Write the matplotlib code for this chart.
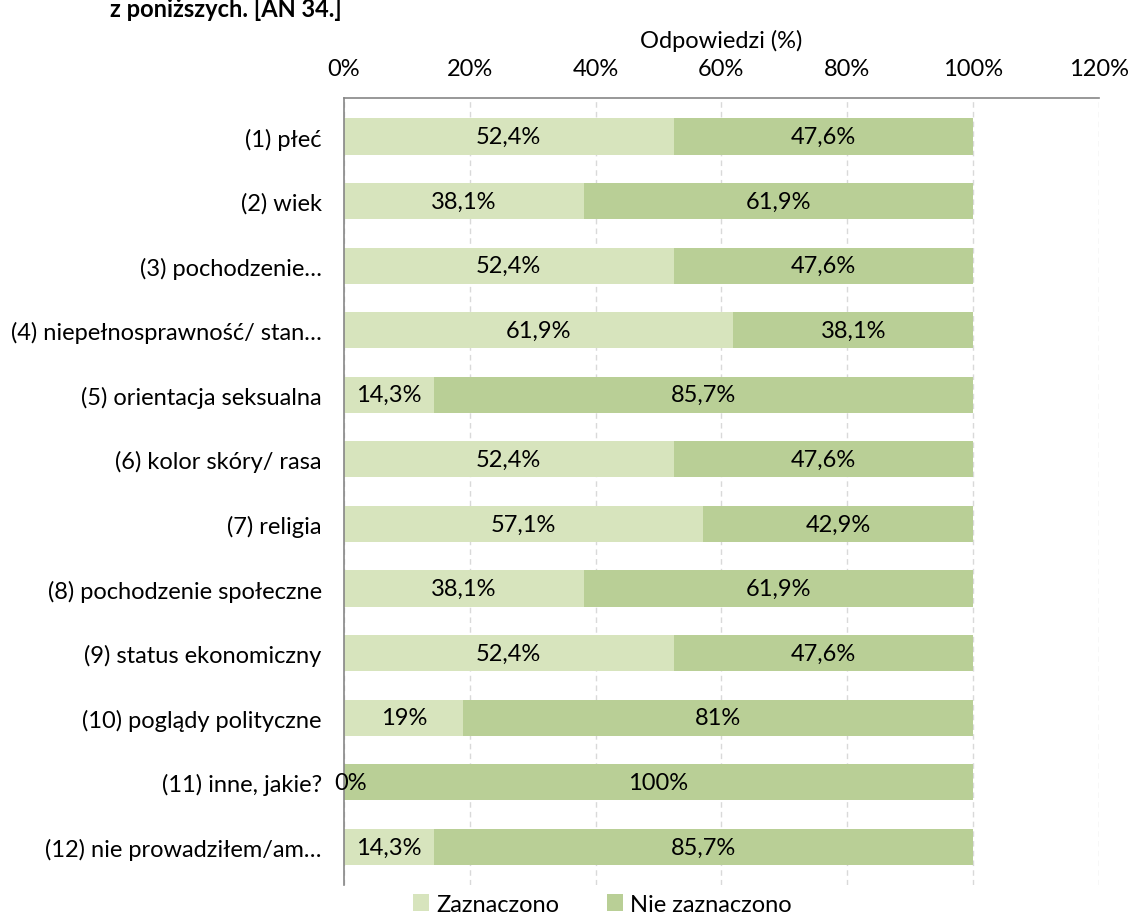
import numpy as np
import matplotlib.pyplot as plt
from matplotlib.patches import Patch

plt.rcParams['font.family'] = ['Lato', 'DejaVu Sans']

categories = [
    "(1) płeć", "(2) wiek", "(3) pochodzenie…", "(4) niepełnosprawność/ stan…",
    "(5) orientacja seksualna", "(6) kolor skóry/ rasa", "(7) religia",
    "(8) pochodzenie społeczne", "(9) status ekonomiczny",
    "(10) poglądy polityczne", "(11) inne, jakie?", "(12) nie prowadziłem/am…",
]
zaznaczono = [52.4, 38.1, 52.4, 61.9, 14.3, 52.4, 57.1, 38.1, 52.4, 19.0, 0.0, 14.3]
nie_zaznaczono = [47.6, 61.9, 47.6, 38.1, 85.7, 47.6, 42.9, 61.9, 47.6, 81.0, 100.0, 85.7]
series_names = ["Zaznaczono", "Nie zaznaczono"]
colors = ["#D7E4BD", "#B9CF96"]

FS = 17


def fmt(v):
    s = f"{v:.1f}".replace(".", ",")
    if s.endswith(",0"):
        s = s[:-2]
    return s + "%"


fig = plt.figure(figsize=(11.3, 9.2), dpi=100)
ax = fig.add_axes([0.3044, 0.037, 0.668, 0.855])

y = np.arange(len(categories))
h = 0.56
ax.barh(y, zaznaczono, height=h, color=colors[0], zorder=2)
ax.barh(y, nie_zaznaczono, left=zaznaczono, height=h, color=colors[1], zorder=2)

for i in range(len(categories)):
    a, b = zaznaczono[i], nie_zaznaczono[i]
    ax.text(a / 2 + (1.0 if a == 0 else 0), y[i], fmt(a), ha="center", va="center", fontsize=FS, zorder=3)
    ax.text(a + b / 2, y[i], fmt(b), ha="center", va="center", fontsize=FS, zorder=3)

ax.set_xlim(0, 120)
ax.set_ylim(len(categories) - 0.5 + 0.09, -0.5 - 0.09)
ax.set_yticks(y)
ax.set_yticklabels(categories, fontsize=FS)
ax.set_xticks(np.arange(0, 121, 20))
ax.set_xticklabels([f"{t}%" for t in range(0, 121, 20)], fontsize=FS)
ax.xaxis.tick_top()
ax.xaxis.set_label_position("top")
ax.set_xlabel("Odpowiedzi (%)", fontsize=FS, labelpad=8)
ax.tick_params(axis="y", length=0, pad=16)
ax.tick_params(axis="x", length=0, pad=14)

ax.grid(axis="x", color="#D9D9D9", linestyle=(0, (4, 3)), linewidth=1, zorder=0)
for s in ["right", "bottom"]:
    ax.spines[s].set_visible(False)
for s in ["top", "left"]:
    ax.spines[s].set_color("#868686")
    ax.spines[s].set_linewidth(1.2)

fig.text(0.097, 0.990, "z poniższych. [AN 34.]", fontsize=FS, fontweight="bold", ha="left", va="center")

handles = [Patch(facecolor=c, label=n) for c, n in zip(colors, series_names)]
fig.legend(handles=handles, loc="center", bbox_to_anchor=(0.533, 0.016), ncol=2,
           frameon=False, fontsize=FS, handlelength=0.7, handleheight=0.7,
           columnspacing=2.0, handletextpad=0.3)

fig.savefig("out.png", dpi=100)
